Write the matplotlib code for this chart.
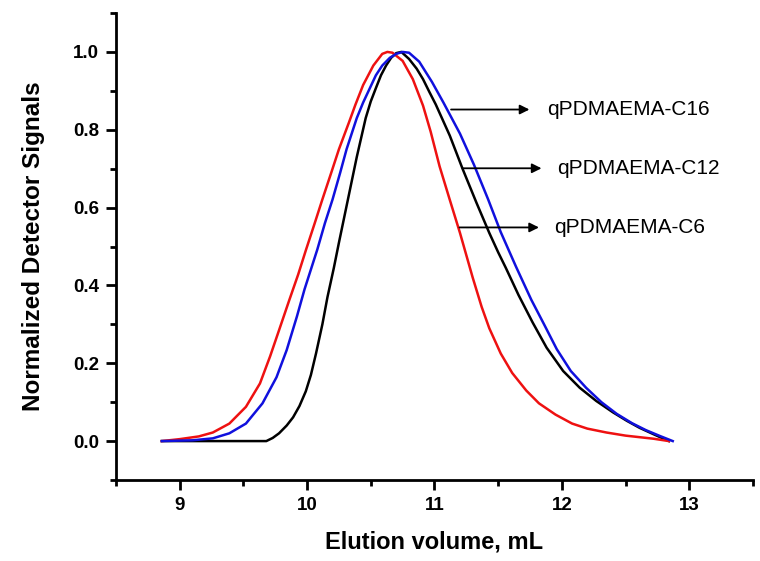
import matplotlib
matplotlib.use("Agg")
import matplotlib.pyplot as plt
from matplotlib.ticker import MultipleLocator

plt.rcParams['font.family'] = ['Liberation Sans', 'DejaVu Sans']

# C6 (red)
c6_x = [8.86, 9.0, 9.15, 9.26, 9.39, 9.52, 9.63, 9.71, 9.78, 9.86, 9.93, 9.99, 10.06, 10.12,
        10.19, 10.25, 10.33, 10.38, 10.44, 10.52, 10.59, 10.63, 10.67, 10.75, 10.83, 10.91,
        10.97, 11.04, 11.12, 11.20, 11.30, 11.37, 11.43, 11.52, 11.61, 11.72, 11.82, 11.95,
        12.08, 12.20, 12.35, 12.50, 12.61, 12.72, 12.84]
c6_y = [0.0, 0.005, 0.012, 0.022, 0.045, 0.088, 0.148, 0.218, 0.285, 0.362, 0.428, 0.49, 0.56, 0.621,
        0.69, 0.75, 0.82, 0.865, 0.915, 0.965, 0.995, 1.0, 0.998, 0.977, 0.93, 0.862,
        0.795, 0.706, 0.62, 0.535, 0.42, 0.345, 0.29, 0.225, 0.175, 0.13, 0.097, 0.068,
        0.045, 0.032, 0.022, 0.014, 0.01, 0.006, 0.0]

# C16 (blue)
c16_x = [8.86, 9.10, 9.26, 9.39, 9.52, 9.65, 9.76, 9.84, 9.92, 9.98, 10.08, 10.14, 10.20, 10.26,
         10.31, 10.39, 10.44, 10.49, 10.54, 10.59, 10.65, 10.70, 10.75, 10.80, 10.88, 10.98,
         11.07, 11.20, 11.31, 11.42, 11.52, 11.64, 11.76, 11.86, 11.96, 12.07, 12.19, 12.31,
         12.43, 12.55, 12.66, 12.77, 12.87]
c16_y = [0.0, 0.002, 0.007, 0.02, 0.045, 0.097, 0.164, 0.234, 0.32, 0.39, 0.492, 0.56, 0.621, 0.69,
         0.75, 0.83, 0.87, 0.905, 0.94, 0.965, 0.985, 0.995, 1.0, 0.998, 0.975, 0.923,
         0.87, 0.79, 0.71, 0.622, 0.537, 0.448, 0.363, 0.30, 0.236, 0.18, 0.137, 0.10,
         0.07, 0.046, 0.028, 0.013, 0.0]

# C12 (black)
c12_x = [8.86, 9.68, 9.73, 9.78, 9.84, 9.89, 9.94, 9.99, 10.03, 10.07, 10.12, 10.16, 10.21, 10.25,
         10.32, 10.39, 10.46, 10.50, 10.54, 10.58, 10.62, 10.66, 10.70, 10.74, 10.80, 10.86,
         10.91, 10.96, 11.01, 11.12, 11.22, 11.33, 11.43, 11.50, 11.56, 11.66, 11.77, 11.88,
         12.01, 12.14, 12.27, 12.40, 12.51, 12.61, 12.73, 12.84]
c12_y = [0.0, 0.0, 0.008, 0.02, 0.04, 0.061, 0.09, 0.128, 0.17, 0.225, 0.30, 0.37, 0.445, 0.51,
         0.62, 0.73, 0.83, 0.873, 0.907, 0.94, 0.965, 0.985, 0.997, 1.0, 0.982, 0.957,
         0.93, 0.897, 0.865, 0.785, 0.70, 0.612, 0.535, 0.485, 0.445, 0.375, 0.305, 0.24,
         0.18, 0.137, 0.103, 0.074, 0.052, 0.034, 0.016, 0.0]

labels = ["qPDMAEMA-C16", "qPDMAEMA-C12", "qPDMAEMA-C6"]
arrow_start_x = [11.13, 11.22, 11.196]
arrow_end_x = [11.745, 11.84, 11.82]
arrow_y = [0.852, 0.701, 0.549]
label_x = [11.886, 11.965, 11.94]

fig = plt.figure(figsize=(7.6, 5.61), dpi=100)
ax = fig.add_axes([0.1526, 0.1444, 0.8382, 0.8324])

ax.plot(c12_x, c12_y, color='black', lw=1.8, solid_joinstyle='round')
ax.plot(c6_x, c6_y, color='#ee1111', lw=1.8, solid_joinstyle='round')
ax.plot(c16_x, c16_y, color='#1010dd', lw=1.8, solid_joinstyle='round')

for sx, ex, yy, lx, lab in zip(arrow_start_x, arrow_end_x, arrow_y, label_x, labels):
    ax.annotate('', xy=(ex, yy), xytext=(sx, yy),
                arrowprops=dict(arrowstyle='-|>', color='black', lw=1.3,
                                mutation_scale=14, shrinkA=0, shrinkB=0))
    ax.text(lx, yy, lab, fontsize=15, va='center', ha='left')

ax.set_xlim(8.5, 13.5)
ax.set_ylim(-0.1, 1.1)
ax.xaxis.set_major_locator(MultipleLocator(1))
ax.xaxis.set_minor_locator(MultipleLocator(0.5))
ax.yaxis.set_major_locator(MultipleLocator(0.2))
ax.yaxis.set_minor_locator(MultipleLocator(0.1))
ax.set_yticks([0.0, 0.2, 0.4, 0.6, 0.8, 1.0])
ax.set_yticklabels(["0.0", "0.2", "0.4", "0.6", "0.8", "1.0"])

for s in ['top', 'right']:
    ax.spines[s].set_visible(False)
for s in ['left', 'bottom']:
    ax.spines[s].set_linewidth(2)

ax.tick_params(which='major', direction='out', length=7, width=2, labelsize=13.5, pad=5)
ax.tick_params(which='minor', direction='out', length=4.5, width=2)
for t in ax.get_xticklabels() + ax.get_yticklabels():
    t.set_fontweight('bold')

ax.set_xlabel('Elution volume, mL', fontsize=17, fontweight='bold', labelpad=12)
ax.set_ylabel('Normalized Detector Signals', fontsize=17.5, fontweight='bold', labelpad=20)

fig.savefig('out.png', dpi=100)
